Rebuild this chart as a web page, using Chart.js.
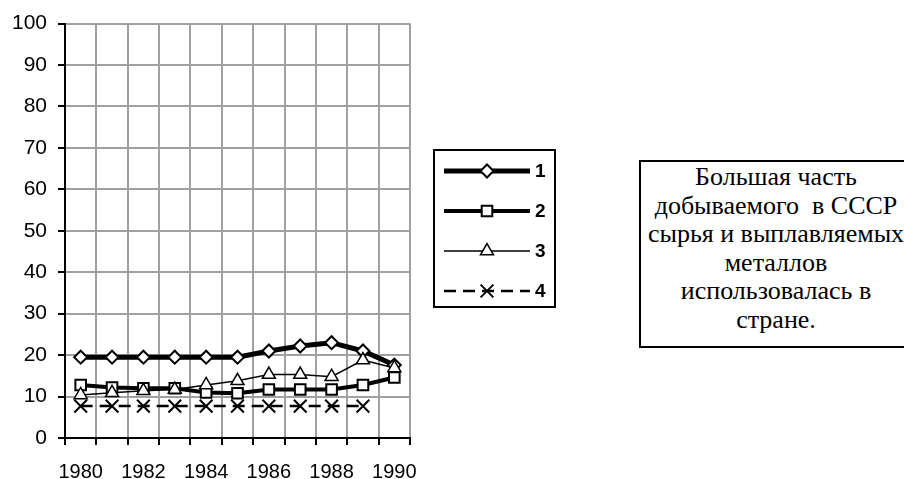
<!DOCTYPE html>
<html>
<head>
<meta charset="utf-8">
<script src="https://cdn.jsdelivr.net/npm/chart.js@4/dist/chart.umd.min.js"></script>
<style>
  html, body { margin: 0; padding: 0; background: #fff; overflow: hidden; }
  #wrap { position: relative; width: 904px; height: 479px; overflow: hidden; }
  #note {
    position: absolute; left: 639px; top: 160px; width: 274px; height: 188px;
    border: 2px solid #000; box-sizing: border-box; background: #fff;
    font-family: "Liberation Serif", "Times New Roman", serif; font-size: 26px;
    line-height: 28.5px; text-align: center; white-space: pre; padding-top: 1px;
  }
</style>
</head>
<body>
<div id="wrap">
  <canvas id="chart" width="904" height="479"></canvas>
  <div id="note">Большая часть
добываемого  в СССР
сырья и выплавляемых
металлов
использовалась в
стране.</div>
</div>
<script>
const years = ['1980', '1981', '1982', '1983', '1984', '1985', '1986', '1987', '1988', '1989', '1990'];
const series1 = [19.5, 19.5, 19.5, 19.5, 19.5, 19.5, 21, 22.2, 23, 21, 17.6];
const series2 = [12.8, 12.2, 12, 12, 11, 10.8, 11.7, 11.7, 11.7, 12.8, 14.6];
const series3 = [10.4, 10.9, 11.4, 11.7, 12.8, 13.8, 15.3, 15.3, 14.8, 18.8, 16.9];
const series4 = [7.7, 7.7, 7.7, 7.7, 7.7, 7.7, 7.7, 7.7, 7.7, 7.7, null];
const seriesNames = ['1', '2', '3', '4'];
const yTicks = [0, 10, 20, 30, 40, 50, 60, 70, 80, 90, 100];

// legend drawn inside a box next to the plot
const boxLegend = {
    id: 'boxLegend',
    afterDraw(chart) {
        const ctx = chart.ctx;
        ctx.save();
        ctx.strokeStyle = '#000';
        ctx.lineWidth = 2;
        ctx.strokeRect(434, 150, 121, 157);
        chart.data.datasets.forEach((ds, i) => {
            const y = 171 + i * 40;
            ctx.save();
            ctx.strokeStyle = ds.borderColor;
            ctx.lineWidth = ds.borderWidth;
            ctx.setLineDash(ds.borderDash || []);
            ctx.beginPath();
            ctx.moveTo(444, y);
            ctx.lineTo(530, y);
            ctx.stroke();
            ctx.restore();
            ctx.fillStyle = ds.pointBackgroundColor;
            ctx.strokeStyle = ds.pointBorderColor;
            ctx.lineWidth = ds.pointBorderWidth;
            ctx.setLineDash([]);
            Chart.helpers.drawPoint(ctx, {
                pointStyle: ds.pointStyle,
                radius: ds.pointRadius,
                borderWidth: ds.pointBorderWidth
            }, 487, y);
            ctx.fillStyle = '#000';
            ctx.font = 'bold 19px "Liberation Sans", Arial, sans-serif';
            ctx.textBaseline = 'middle';
            ctx.fillText(ds.label, 535, y + 1);
        });
        ctx.restore();
    }
};

const ctx = document.getElementById('chart').getContext('2d');

new Chart(ctx, {
    type: 'line',
    data: {
        labels: years,
        datasets: [
            {
                label: seriesNames[0], data: series1, order: 4,
                borderColor: '#000', borderWidth: 5,
                pointStyle: 'rectRot', pointRadius: 6.5, pointBorderWidth: 2,
                pointBackgroundColor: '#fff', pointBorderColor: '#000'
            },
            {
                label: seriesNames[1], data: series2, order: 3,
                borderColor: '#000', borderWidth: 4,
                pointStyle: 'rect', pointRadius: 7.5, pointBorderWidth: 2,
                pointBackgroundColor: '#fff', pointBorderColor: '#000'
            },
            {
                label: seriesNames[2], data: series3, order: 2,
                borderColor: '#000', borderWidth: 1.5,
                pointStyle: 'triangle', pointRadius: 7.5, pointBorderWidth: 1.5,
                pointBackgroundColor: '#fff', pointBorderColor: '#000'
            },
            {
                label: seriesNames[3], data: series4, order: 1,
                borderColor: '#000', borderWidth: 2.5, borderDash: [12, 7],
                pointStyle: 'crossRot', pointRadius: 9, pointBorderWidth: 2,
                pointBackgroundColor: '#fff', pointBorderColor: '#000'
            }
        ]
    },
    options: {
        responsive: false,
        animation: false,
        layout: { padding: { left: 0, top: 22, right: 494, bottom: 0 } },
        plugins: {
            legend: { display: false },
            tooltip: { enabled: false }
        },
        elements: { line: { tension: 0, fill: false } },
        scales: {
            x: {
                offset: true,
                grid: { offset: true, color: '#a0a0a0', lineWidth: 2, tickColor: '#000', tickLength: 7, tickWidth: 2 },
                border: { color: '#000', width: 2 },
                ticks: {
                    autoSkip: false, maxRotation: 0, color: '#000', padding: 15,
                    font: { family: '"Liberation Sans", Arial, sans-serif', size: 20 },
                    callback: function(value, index) {
                        return index % 2 === 0 ? years[index] : '';
                    }
                },
                afterFit: function(scale) { scale.height = 41; }
            },
            y: {
                min: 0, max: 100,
                afterBuildTicks: function(scale) { scale.ticks = yTicks.map(v => ({ value: v })); },
                grid: { color: '#a0a0a0', lineWidth: 2, tickColor: '#000', tickLength: 7, tickWidth: 2 },
                border: { color: '#000', width: 2 },
                ticks: {
                    color: '#000', padding: 11,
                    font: { family: '"Liberation Sans", Arial, sans-serif', size: 21 }
                },
                afterFit: function(scale) { scale.width = 65; }
            }
        }
    },
    plugins: [boxLegend]
});
</script>
</body>
</html>
